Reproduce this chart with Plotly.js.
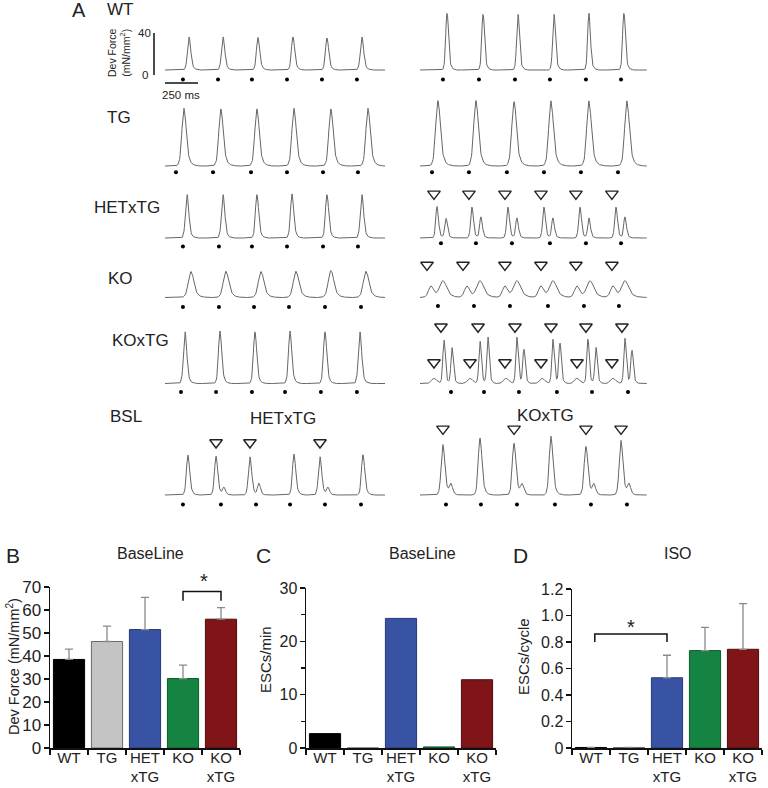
<!DOCTYPE html>
<html><head><meta charset="utf-8">
<script src="https://cdn.plot.ly/plotly-3.0.1.min.js"></script>
<style>html,body{margin:0;padding:0;background:#fff}</style>
</head><body><div id="chart" style="width:768px;height:788px"></div>
<script>
// ================= Panel A data (time in ms, force in mN/mm²) =================
const beatShapeT = [-45,-35,-25,-18,-12,-6,0,6,12,18,25,35,48,65,90];
const beatShapeV = [0,0.02,0.1,0.3,0.6,0.9,1,0.9,0.65,0.4,0.2,0.08,0.03,0.01,0];

const wtL_t = [182,440,705,970,1228,1493];
const wtL_a = [32,32,31,32,31,32];
const wtL_dots = [136,402,659,925,1190,1455];
const wtR_t = [205,478,743,1016,1281,1546];
const wtR_a = [55,54,54,54,54,55];
const wtR_dots = [174,447,720,985,1258,1524];

const tgL_t = [144,424,697,978,1258,1539];
const tgL_a = [55,55,55,55,55,55];
const tgL_dots = [83,364,652,925,1198,1463];
const tgR_t = [136,424,713,993,1281,1569];
const tgR_a = [63,63,62,62,62,62];
const tgR_dots = [91,371,659,940,1220,1501];

const hetL_t = [167,440,697,963,1228,1493];
const hetL_a = [42,42,42,42,42,42];
const hetL_dots = [136,409,659,925,1198,1463];
const hetR_t = [129,394,667,940,1213,1486];
const hetR_a = [30,30,30,30,30,30];
const hetR_esc_t = [197,462,735,1008,1281,1554];
const hetR_esc_a = [19,20,19,19,19,20];
const hetR_tri = [106,371,644,917,1182,1455];
const hetR_dots = [159,424,697,985,1258,1524];

const koL_t = [197,462,728,993,1258,1524];
const koL_a = [25,25,25,25,26,25];
const koL_dots = [136,409,675,940,1213,1486];
const koR_esc_t = [83,356,644,917,1190,1463];
const koR_esc_a = [11,11,11,11,11,11];
const koR_t = [174,455,735,1008,1289,1554];
const koR_a = [16,16,16,16,16,16];
const koR_tri = [53,326,644,917,1182,1455];
const koR_dots = [136,409,682,970,1243,1508];

const koxL_t = [152,417,682,948,1213,1478];
const koxL_a = [50,50,50,50,50,50];
const koxL_dots = [121,387,659,910,1182,1455];
const koxR_hump_t = [106,379,652,925,1190,1463];
const koxR_hump_a = [5,5,5,5,5,5];
const koxR_t = [182,455,735,1008,1273,1554];
const koxR_a = [42,41,44,42,43,43];
const koxR_esc_t = [243,515,788,1061,1334,1607];
const koxR_esc_a = [34,45,33,39,35,32];
const koxR_triUp = [159,440,720,993,1258,1531];
const koxR_triLow = [106,379,644,917,1190,1455];
const koxR_dots = [235,485,750,1038,1304,1577];

const bslL_t = [174,387,644,978,1175,1501];
const bslL_a = [38,37,37,39,37,39];
const bslL_esc_t = [447,712,1236];
const bslL_esc_a = [7,11,7];
const bslL_tri = [387,644,1175];
const bslL_dots = [136,424,690,948,1213,1486];
const bslR_t = [174,455,713,993,1258,1524];
const bslR_a = [48,55,50,56,47,52];
const bslR_esc_t = [234,773,1318,1584];
const bslR_esc_a = [10,10,10,10];
const bslR_tri = [174,713,1258,1524];
const bslR_dots = [197,462,735,1023,1296,1569];

// ================= Panels B–D data =================
const groups = ['WT','TG','HET<br>xTG','KO','KO<br>xTG'];
const devForce = [38.5,46.3,51.5,30.2,56.0];
const devForceErr = [4.5,6.7,14.0,5.8,5.0];
const escsPerMin = [2.7,0,24.3,0.2,12.8];
const escsPerCycle = [0.004,0.004,0.53,0.735,0.745];
const escsPerCycleErr = [0,0,0.17,0.175,0.345];

// ================= styling / layout helpers =================
const W = 768, H = 788;
const FONT = 'Liberation Sans, Arial, Helvetica, sans-serif';
const barFill = ['#000000','#c4c4c4','#3953a4','#158442','#7f1518'];
const barEdge = ['#000000','#6a6a6a','#26397a','#0c5a2c','#4f0a0c'];
const px = v => v / W;
const py = v => 1 - v / H;
const PXU = 1.05; // pixels per mN/mm²

function shape(dt, w) {
  const u = dt / w;
  const n = beatShapeT.length;
  if (u <= beatShapeT[0] || u >= beatShapeT[n-1]) return 0;
  for (let i = 1; i < n; i++) {
    if (u <= beatShapeT[i]) {
      const f = (u - beatShapeT[i-1]) / (beatShapeT[i] - beatShapeT[i-1]);
      return beatShapeV[i-1] + f * (beatShapeV[i] - beatShapeV[i-1]);
    }
  }
  return 0;
}
function waveform(tmax, events) {
  const xs = [], ys = [];
  for (let t = 0; t <= tmax; t += 3) {
    let v = 0;
    events.forEach(([ts, as, w]) => ts.forEach((tp, i) => { v += as[i] * shape(t - tp, w); }));
    xs.push(t); ys.push(v);
  }
  return {xs, ys};
}

const LMAX = 1668, RMAX = 1721;
const rowBase = [70,166,238,297.5,383.5,495];
const traces = [];
const layout = {
  width: W, height: H, margin: {l:0,r:0,t:0,b:0},
  paper_bgcolor: '#fff', plot_bgcolor: 'rgba(0,0,0,0)',
  showlegend: false, font: {family: FONT, color: '#222'},
  annotations: [], shapes: []
};
const hidden = {visible:false, showgrid:false, zeroline:false, fixedrange:true};
layout.xaxis4 = Object.assign({}, hidden, {domain:[px(165),px(385)], range:[0,LMAX], anchor:'y4'});
layout.xaxis5 = Object.assign({}, hidden, {domain:[px(420),px(647)], range:[0,RMAX], anchor:'y4'});
rowBase.forEach((b, i) => {
  const bottom = b + 15*PXU;
  const top = Math.max(0, b - 70*PXU);
  const hi = (b - top) / PXU;
  layout['yaxis' + (i+4)] = Object.assign({}, hidden, {domain:[py(bottom), py(top)], range:[-15, hi], anchor:'x4'});
});

function addRow(row, side, events, dots, dotY, tris) {
  const xa = side === 'L' ? 'x4' : 'x5';
  const ya = 'y' + (row + 4);
  const w = waveform(side === 'L' ? LMAX : RMAX, events);
  traces.push({type:'scatter', mode:'lines', x:w.xs, y:w.ys, xaxis:xa, yaxis:ya,
    line:{color:'#666666', width:1}, hoverinfo:'skip', cliponaxis:false});
  traces.push({type:'scatter', mode:'markers', x:dots, y:dots.map(() => dotY), xaxis:xa, yaxis:ya,
    marker:{symbol:'circle', size:4, color:'#000'}, hoverinfo:'skip', cliponaxis:false});
  (tris || []).forEach(([tx, ty]) => {
    traces.push({type:'scatter', mode:'markers', x:tx, y:tx.map(() => ty), xaxis:xa, yaxis:ya,
      marker:{symbol:'triangle-down-open', size:11, color:'#222', line:{width:1.4, color:'#222'}},
      hoverinfo:'skip', cliponaxis:false});
  });
}

addRow(0,'L',[[wtL_t,wtL_a,1.0]], wtL_dots, -9);
addRow(0,'R',[[wtR_t,wtR_a,0.85]], wtR_dots, -9);
addRow(1,'L',[[tgL_t,tgL_a,1.35]], tgL_dots, -6);
addRow(1,'R',[[tgR_t,tgR_a,1.45]], tgR_dots, -6);
addRow(2,'L',[[hetL_t,hetL_a,1.0]], hetL_dots, -8);
addRow(2,'R',[[hetR_t,hetR_a,0.85],[hetR_esc_t,hetR_esc_a,0.85]], hetR_dots, -5, [[hetR_tri,42]]);
addRow(3,'L',[[koL_t,koL_a,1.7]], koL_dots, -9);
addRow(3,'R',[[koR_esc_t,koR_esc_a,1.6],[koR_t,koR_a,2.2]], koR_dots, -8, [[koR_tri,31]]);
addRow(4,'L',[[koxL_t,koxL_a,1.0]], koxL_dots, -8);
addRow(4,'R',[[koxR_hump_t,koxR_hump_a,1.6],[koxR_t,koxR_a,0.75],[koxR_esc_t,koxR_esc_a,0.75]], koxR_dots, -8, [[koxR_triUp,54],[koxR_triLow,20]]);
addRow(5,'L',[[bslL_t,bslL_a,1.0],[bslL_esc_t,bslL_esc_a,0.9]], bslL_dots, -9, [[bslL_tri,50]]);
addRow(5,'R',[[bslR_t,bslR_a,1.15],[bslR_esc_t,bslR_esc_a,1.0]], bslR_dots, -9, [[bslR_tri,63]]);

// Panel A text + scale bars
function txt(text, x, y, size, extra) {
  layout.annotations.push(Object.assign({text, x:px(x), y:py(y), xref:'paper', yref:'paper',
    showarrow:false, xanchor:'center', yanchor:'middle', font:{size, family:FONT, color:'#222'}}, extra || {}));
}
txt('A', 79, 10, 20);
txt('WT', 120, 10, 17);
txt('TG', 119, 118, 17);
txt('HETxTG', 127, 207, 17);
txt('KO', 120, 278, 17);
txt('KOxTG', 140, 340, 17);
txt('BSL', 126, 417, 17);
txt('HETxTG', 283, 418, 17);
txt('KOxTG', 545, 415, 17);
txt('Dev Force<br>(mN/mm<sup>2</sup>)', 119, 53, 10.5, {textangle:-90});
txt('40', 144, 33, 11.5);
txt('0', 145, 75, 11.5);
txt('250 ms', 181, 95, 11.5);
layout.shapes.push({type:'line', xref:'paper', yref:'paper', x0:px(154), x1:px(154), y0:py(33), y1:py(75), line:{color:'#111', width:1.5}});
layout.shapes.push({type:'line', xref:'paper', yref:'paper', x0:px(165), x1:px(198), y0:py(83), y1:py(83), line:{color:'#111', width:1.5}});

// ================= bar panels =================
function barAxes(idx, x0, x1, yTop, range, ytf, yopts) {
  const sfx = idx === 1 ? '' : String(idx);
  layout['xaxis' + sfx] = {domain:[px(x0), px(x1)], anchor:'y' + sfx, type:'category',
    range:[-0.5, 4.5], showline:true, linecolor:'#111', linewidth:1.5, ticks:'outside', tickson:'boundaries',
    ticklen:5, tickwidth:1.5, tickcolor:'#111', showgrid:false, zeroline:false, fixedrange:true,
    tickangle:0, automargin:false, ticklabelstandoff:-5,
    tickfont:{size:15, family:FONT, color:'#222'}};
  layout['yaxis' + sfx] = Object.assign({domain:[py(748), py(yTop)], anchor:'x' + sfx, range,
    showline:true, linecolor:'#111', linewidth:1.5, ticks:'outside', ticklen:5, tickwidth:1.5, tickcolor:'#111',
    showgrid:false, zeroline:false, fixedrange:true, automargin:false, ticklabelstandoff:-1,
    tickfont:{size:ytf, family:FONT, color:'#222'}}, yopts);
}
barAxes(1, 50, 240, 587, [0,70], 17, {dtick:10, tick0:0});
barAxes(2, 306, 496, 588, [0,30], 16, {dtick:10, tick0:0, minor:{dtick:5, ticks:'outside', ticklen:4, tickwidth:1.2, tickcolor:'#111'}});
barAxes(3, 572, 762, 589, [0,1.2], 16, {tickvals:[0,0.2,0.4,0.6,0.8,1.0,1.2], ticktext:['0','0.2','0.4','0.6','0.8','1.0','1.2']});

const errStyle = {color:'#8a8a8a', thickness:1.3, width:4};
traces.push({type:'bar', x:groups, y:devForce, xaxis:'x', yaxis:'y', width:0.82,
  marker:{color:barFill, line:{color:barEdge, width:1}},
  error_y:Object.assign({type:'data', symmetric:false, array:devForceErr, arrayminus:devForceErr.map(() => 0)}, errStyle),
  hoverinfo:'skip'});
traces.push({type:'bar', x:groups, y:escsPerMin, xaxis:'x2', yaxis:'y2', width:0.82,
  marker:{color:barFill, line:{color:barEdge, width:1}}, hoverinfo:'skip'});
traces.push({type:'bar', x:groups, y:escsPerCycle, xaxis:'x3', yaxis:'y3', width:0.82,
  marker:{color:barFill, line:{color:barEdge, width:1}},
  error_y:Object.assign({type:'data', symmetric:false, array:escsPerCycleErr, arrayminus:escsPerCycleErr.map(() => 0)}, errStyle),
  hoverinfo:'skip'});

// significance brackets
layout.shapes.push({type:'path', xref:'x', yref:'y', path:'M 3,64 L 3,68 L 4,68 L 4,64', line:{color:'#111', width:1.5}});
txt('*', 204, 581, 20);
layout.shapes.push({type:'path', xref:'x3', yref:'y3', path:'M 0.1,0.80 L 0.1,0.86 L 2,0.86 L 2,0.80', line:{color:'#111', width:1.5}});
txt('*', 631, 627, 20);

// panel letters, titles, y titles
txt('B', 13, 555, 21);
txt('C', 263, 555, 21);
txt('D', 520, 555, 21);
txt('BaseLine', 150, 553, 16);
txt('BaseLine', 422, 553, 16);
txt('ISO', 678, 553, 16);
txt('Dev Force (mN/mm<sup>2</sup>)', 13, 667, 14.5, {textangle:-90});
txt('ESCs/min', 265, 660, 15, {textangle:-90});
txt('ESCs/cycle', 523, 657, 15, {textangle:-90});

Plotly.newPlot('chart', traces, layout, {staticPlot:true, displayModeBar:false});
</script></body></html>
